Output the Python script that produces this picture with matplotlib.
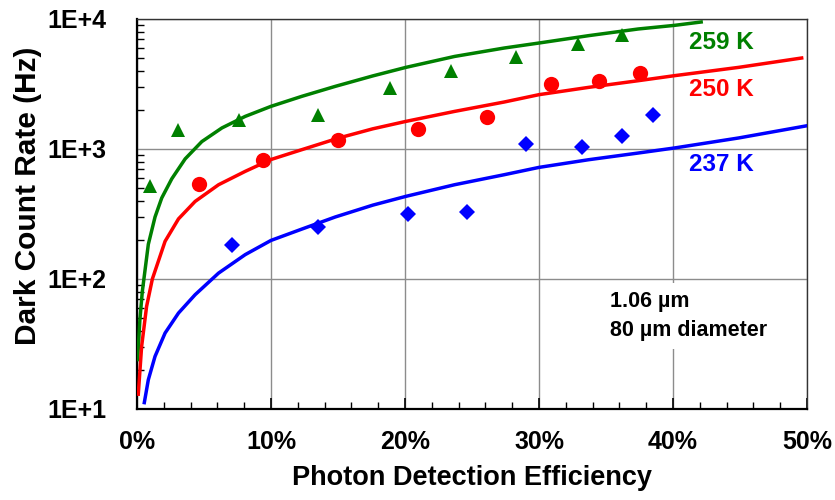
import math
import matplotlib
matplotlib.use('Agg')
import matplotlib.pyplot as plt
from matplotlib.ticker import FixedLocator, FuncFormatter, LogLocator, NullFormatter

plt.rcParams['font.family'] = ['Liberation Sans', 'DejaVu Sans']
plt.rcParams['font.weight'] = 'bold'

# measured points (photon detection efficiency as fraction, dark count rate in Hz)
pde_259 = [0.0097, 0.031, 0.076, 0.135, 0.189, 0.234, 0.283, 0.329, 0.362]
dcr_259 = [522, 1406, 1679, 1835, 2965, 4000, 5130, 6460, 7570]

pde_250 = [0.046, 0.094, 0.150, 0.210, 0.261, 0.309, 0.345, 0.375]
dcr_250 = [540, 828, 1180, 1430, 1775, 3180, 3350, 3860]

pde_237 = [0.071, 0.135, 0.202, 0.246, 0.290, 0.332, 0.362, 0.385]
dcr_237 = [184, 252, 318, 330, 1100, 1043, 1268, 1833]

# model curves
fit_x_259 = [0.0005, 0.0022, 0.004, 0.0085, 0.0135, 0.0185, 0.026, 0.036, 0.0484, 0.0634,
             0.0808, 0.10, 0.123, 0.148, 0.176, 0.2006, 0.237, 0.274, 0.30, 0.337, 0.374,
             0.401, 0.421]
fit_y_259 = [24, 48.6, 80, 185, 300, 420, 590, 840, 1140, 1452,
             1782, 2128, 2541, 3033, 3650, 4243, 5152, 5980, 6535, 7445, 8378,
             8932, 9484]

fit_x_250 = [0.001, 0.0035, 0.0072, 0.0115, 0.021, 0.031, 0.0434, 0.0609, 0.0808, 0.10,
             0.123, 0.1507, 0.176, 0.2006, 0.237, 0.274, 0.30, 0.337, 0.374, 0.401,
             0.449, 0.496]
fit_y_250 = [13, 30.3, 61.5, 100, 195, 290, 395, 531, 673, 830,
             988, 1216, 1430, 1630, 1946, 2298, 2618, 2979, 3352, 3664,
             4246, 5012]

fit_x_237 = [0.0055, 0.0085, 0.0135, 0.021, 0.031, 0.0434, 0.0609, 0.0808, 0.10, 0.123,
             0.148, 0.176, 0.2006, 0.237, 0.274, 0.30, 0.337, 0.374, 0.401, 0.449, 0.50]
fit_y_237 = [11.2, 16.8, 25.4, 38.4, 54.7, 75.7, 111, 154, 198, 242,
             300, 370, 432, 531, 634, 722, 827, 931, 1018, 1216, 1510]

green = '#008000'
red = '#ff0000'
blue = '#0000ff'


def plot_data():
    """Draw the dark count rate chart."""

    fig = plt.figure(figsize=[8.35, 5], dpi=100)
    ax = fig.add_axes([0.164, 0.182, 0.8025, 0.78])

    ax.plot(fit_x_259, fit_y_259, color=green, lw=2.5, zorder=3, solid_joinstyle='round')
    ax.plot(fit_x_250, fit_y_250, color=red, lw=2.5, zorder=3, solid_joinstyle='round')
    ax.plot(fit_x_237, fit_y_237, color=blue, lw=2.5, zorder=3, solid_joinstyle='round')

    ax.plot(pde_259, dcr_259, '^', color=green, ms=10.5, mew=0, zorder=4)
    ax.plot(pde_250, dcr_250, 'o', color=red, ms=11, mew=0, zorder=4)
    ax.plot(pde_237, dcr_237, 'D', color=blue, ms=8.6, mew=0, zorder=4)

    ax.set_yscale('log')
    ax.set_xlim(0, 0.5)
    ax.set_ylim(10, 10000)

    ax.xaxis.set_major_locator(FixedLocator([0, 0.1, 0.2, 0.3, 0.4, 0.5]))
    ax.xaxis.set_minor_locator(FixedLocator([i * 0.02 for i in range(26)]))
    ax.xaxis.set_major_formatter(FuncFormatter(lambda v, p: '%d%%' % round(v * 100)))
    ax.yaxis.set_major_locator(LogLocator(base=10))
    ax.yaxis.set_minor_locator(LogLocator(base=10, subs=range(2, 10)))
    ax.yaxis.set_minor_formatter(NullFormatter())
    ax.yaxis.set_major_formatter(FuncFormatter(lambda v, p: '1E+%d' % round(math.log10(v))))

    ax.grid(True, which='major', color='#8c8c8c', lw=1.0)
    ax.set_axisbelow(True)

    ax.tick_params(which='both', direction='in', labelsize=18, color='black')
    ax.tick_params(axis='x', which='major', length=8, width=1.2, pad=15)
    ax.tick_params(axis='x', which='minor', length=5, width=1.0)
    ax.tick_params(axis='y', which='major', length=0, pad=22)
    ax.tick_params(axis='y', which='minor', length=5, width=1.0)
    for lab in ax.get_xticklabels() + ax.get_yticklabels():
        lab.set_fontweight('bold')

    for side in ['left', 'bottom']:
        ax.spines[side].set_linewidth(1.6)
    for side in ['top', 'right']:
        ax.spines[side].set_linewidth(1.0)
        ax.spines[side].set_color('#333333')

    ax.set_xlabel('Photon Detection Efficiency', fontsize=19.5, fontweight='bold', labelpad=8)
    fig.text(28 / 835, 1 - 196 / 500, 'Dark Count Rate (Hz)', rotation=90,
             ha='center', va='center', fontsize=21.5, fontweight='bold')

    ax.text(0.412, 6570, '259 K', color=green, fontsize=17.5, fontweight='bold', va='center')
    ax.text(0.412, 2851, '250 K', color=red, fontsize=17.5, fontweight='bold', va='center')
    ax.text(0.412, 757, '237 K', color=blue, fontsize=17.5, fontweight='bold', va='center')

    ax.text(0.353, 52, '1.06 \u00b5m\n80 \u00b5m diameter', fontsize=15.5, fontweight='bold',
            va='center', ha='left', linespacing=1.5,
            bbox=dict(facecolor='white', edgecolor='none', pad=6), zorder=5)

    return fig


def main():
    """Run the program."""

    fig = plot_data()
    fig.savefig('out.png', dpi=100)


if __name__ == '__main__':
    main()
